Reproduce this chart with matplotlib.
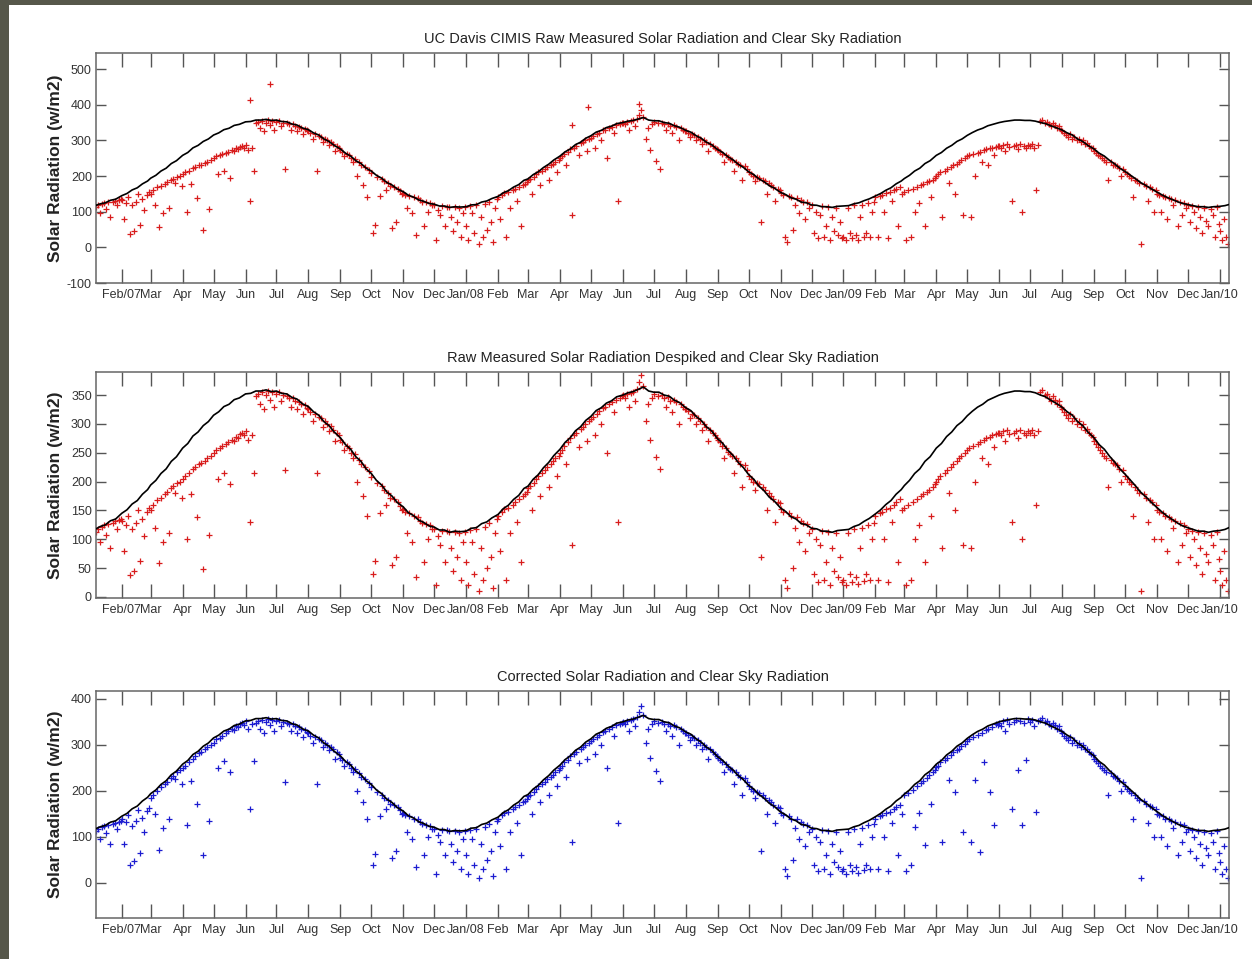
import numpy as np
import pandas as pd
import matplotlib
matplotlib.use('Agg')
import matplotlib.pyplot as plt
from matplotlib.patches import Rectangle

# Clear sky radiation (w/m2), read on days 1, 6, 11, 16, 21, 26 of each month
clear_2007 = [
    [116, 117, 122, 125, 132, 135], [145, 151, 161, 167, 178, 186],
    [194, 202, 214, 222, 235, 243], [258, 266, 279, 286, 297, 304],
    [315, 321, 330, 334, 342, 345], [352, 353, 357, 357, 359, 356],
    [357, 353, 352, 346, 343, 335], [330, 321, 315, 304, 297, 286],
    [276, 264, 256, 243, 235, 222], [214, 202, 194, 182, 175, 164],
    [156, 146, 141, 133, 129, 123], [121, 116, 116, 112, 114, 113],
]
clear_2008 = [
    [114, 119, 120, 127, 130, 137], [143, 153, 159, 169, 176, 188],
    [192, 204, 212, 224, 233, 245], [256, 268, 276, 288, 295, 306],
    [313, 323, 328, 336, 340, 347], [350, 354, 356, 360, 364, 357],
    [355, 355, 350, 348, 341, 337], [328, 323, 313, 306, 295, 288],
    [274, 266, 254, 245, 233, 224], [212, 204, 192, 184, 173, 166],
    [154, 148, 139, 135, 127, 125], [119, 118, 114, 114, 112, 115],
]
clear_2009 = [
    [116, 117, 122, 125, 131, 136], [144, 151, 160, 167, 178, 186],
    [193, 202, 214, 222, 235, 243], [258, 266, 278, 286, 297, 304],
    [314, 322, 329, 334, 341, 345], [350, 353, 355, 357, 357, 356],
    [356, 354, 350, 347, 341, 336], [329, 321, 315, 304, 297, 286],
    [276, 264, 256, 244, 234, 222], [213, 203, 193, 182, 174, 165],
    [155, 147, 140, 134, 128, 123], [120, 117, 114, 114, 112, 114],
]
clear_2010 = [[115, 117, 121]]

# Measured solar radiation, despiked (w/m2), every second day from the 1st
measured_2007 = [
    [118, 105, 120, 112, 118, 95, 121, 124, 108, 126, 85, 128, 131, 118, 133, 135],
    [132, 80, 125, 140, 38, 118, 45, 128, 150, 62, 135, 105, 148, 155],
    [150, 160, 120, 168, 58, 172, 95, 178, 182, 110, 188, 192, 180, 198, 200, 172],
    [205, 210, 100, 215, 178, 222, 225, 138, 230, 232, 48, 236, 240, 108, 245],
    [250, 255, 205, 258, 262, 215, 265, 268, 195, 272, 270, 278, 275, 282, 285, 280],
    [288, 272, 130, 280, 215, 348, 352, 335, 355, 325, 350, 357, 342, 355, 330],
    [352, 355, 340, 350, 220, 348, 345, 330, 345, 340, 325, 338, 335, 318, 332, 328],
    [325, 320, 305, 318, 215, 312, 310, 295, 305, 300, 288, 296, 290, 270, 285, 280],
    [272, 268, 255, 262, 258, 250, 240, 248, 200, 238, 230, 175, 225, 140, 218],
    [208, 40, 62, 198, 145, 192, 185, 160, 180, 172, 55, 170, 70, 165, 158, 150],
    [152, 148, 110, 145, 95, 140, 35, 138, 132, 128, 60, 126, 100, 124, 118],
    [118, 20, 105, 90, 115, 60, 114, 112, 85, 45, 113, 70, 110, 30, 95, 112],
]
measured_2008 = [
    [60, 20, 116, 95, 40, 118, 10, 85, 30, 122, 50, 128, 70, 15, 110, 135],
    [140, 80, 148, 152, 30, 155, 110, 160, 165, 130, 170, 60, 175, 178, 182],
    [188, 192, 150, 198, 205, 210, 175, 215, 220, 225, 190, 230, 235, 240, 210, 245],
    [250, 255, 262, 230, 268, 275, 90, 280, 285, 260, 292, 295, 300, 270, 305],
    [308, 312, 280, 318, 322, 300, 328, 330, 250, 335, 338, 320, 342, 130, 345, 348],
    [350, 345, 352, 330, 354, 356, 340, 360, 372, 385, 365, 305, 335, 272, 345],
    [352, 243, 348, 221, 350, 345, 330, 346, 340, 320, 342, 338, 300, 335, 330, 325],
    [325, 322, 310, 318, 315, 300, 310, 305, 290, 300, 295, 270, 290, 285, 280, 275],
    [272, 268, 262, 240, 258, 252, 248, 245, 215, 240, 235, 230, 190, 228, 220],
    [210, 205, 200, 185, 198, 195, 70, 190, 185, 150, 180, 175, 170, 130, 165, 162],
    [152, 148, 30, 15, 145, 140, 50, 120, 138, 95, 132, 128, 80, 126, 110],
    [118, 40, 100, 25, 90, 115, 30, 60, 112, 20, 85, 45, 110, 35, 70, 25],
]
measured_2009 = [
    [30, 20, 110, 40, 25, 118, 35, 22, 85, 120, 28, 40, 125, 30, 100, 128],
    [140, 30, 145, 148, 100, 152, 25, 155, 130, 160, 165, 60, 170, 150],
    [155, 20, 160, 30, 165, 100, 170, 125, 175, 178, 60, 182, 185, 140, 190, 195],
    [200, 205, 210, 85, 215, 220, 180, 225, 230, 150, 235, 240, 245, 90, 250],
    [255, 258, 85, 262, 200, 265, 268, 240, 272, 275, 230, 278, 280, 260, 282, 285],
    [285, 280, 288, 270, 290, 282, 130, 285, 288, 275, 290, 100, 285, 280, 288],
    [285, 290, 280, 160, 288, 355, 358, 350, 352, 345, 340, 348, 342, 335, 340, 330],
    [325, 320, 315, 310, 318, 305, 310, 300, 305, 295, 300, 290, 292, 285, 280, 278],
    [270, 265, 260, 255, 250, 245, 240, 190, 238, 232, 230, 228, 222, 200, 220],
    [210, 205, 200, 195, 140, 190, 185, 180, 10, 178, 172, 130, 168, 165, 100, 160],
    [150, 148, 100, 145, 140, 80, 138, 135, 120, 132, 60, 128, 90, 125, 110],
    [118, 70, 115, 100, 55, 112, 85, 40, 110, 75, 60, 108, 90, 30, 112, 65],
]
measured_2010 = [[45, 20, 80, 30, 10]]

# Spikes removed by the despiking step
spike_dates = ['2007-06-05', '2007-06-25', '2008-04-13', '2008-04-28', '2008-06-17']
spike_values = [412, 458, 342, 395, 402]

# Corrected values for the periods with a low sensor reading
corrected_2007 = [  # Feb - early Jun 2007
    [140, 84, 132, 148, 40, 124, 47, 135, 158, 65, 142, 110, 156, 163],
    [185, 192, 150, 200, 72, 208, 119, 215, 220, 138, 228, 232, 225, 240, 245, 215],
    [250, 255, 125, 262, 222, 270, 275, 172, 282, 285, 60, 290, 295, 135, 300],
    [305, 312, 250, 315, 320, 265, 325, 330, 240, 335, 332, 340, 338, 345, 347, 342],
    [352, 335, 160, 345, 265],
]
corrected_2009 = [  # Mar - early Jul 2009
    [190, 25, 195, 38, 202, 122, 210, 152, 218, 222, 83, 228, 235, 172, 240, 245],
    [252, 255, 262, 89, 268, 272, 224, 278, 284, 198, 288, 292, 298, 110, 302],
    [308, 312, 89, 318, 224, 322, 67, 326, 263, 332, 335, 198, 338, 126, 345, 342],
    [348, 340, 352, 330, 354, 345, 160, 350, 355, 246, 352, 126, 348, 267, 356],
    [350, 354, 340, 154, 352],
]


def to_series(year, months, step, first_month=1):
    parts = []
    for k, vals in enumerate(months):
        start = pd.Timestamp(year, first_month + k, 1)
        idx = start + pd.to_timedelta(np.arange(len(vals)) * step, unit='D')
        parts.append(pd.Series(vals, index=idx, dtype=float))
    return pd.concat(parts)


clear = pd.concat([to_series(2007, clear_2007, 5), to_series(2008, clear_2008, 5),
                   to_series(2009, clear_2009, 5), to_series(2010, clear_2010, 5)])
despiked = pd.concat([to_series(2007, measured_2007, 2), to_series(2008, measured_2008, 2),
                      to_series(2009, measured_2009, 2), to_series(2010, measured_2010, 2)])
spikes = pd.Series(spike_values, index=pd.to_datetime(spike_dates), dtype=float)
raw = pd.concat([despiked, spikes]).sort_index()
corrected = despiked.copy()
corrected.update(to_series(2007, corrected_2007, 2, first_month=2))
corrected.update(to_series(2009, corrected_2009, 2, first_month=3))

plt.rcParams['font.family'] = ['Liberation Sans', 'DejaVu Sans']
plt.rcParams['axes.unicode_minus'] = False

fig = plt.figure(figsize=(12.52, 9.59), dpi=100)
fig.patch.set_facecolor('#56574a')
fig.patches.append(Rectangle((9 / 1252, 0), 1, 1 - 5 / 959, transform=fig.transFigure,
                             facecolor='white', edgecolor='none', zorder=-10))

month_ticks = pd.date_range('2007-02-01', '2010-01-01', freq='MS')
month_labels = [d.strftime('%b/%y') if (i == 0 or d.month == 1) else d.strftime('%b')
                for i, d in enumerate(month_ticks)]

panels = [
    ('UC Davis CIMIS Raw Measured Solar Radiation and Clear Sky Radiation', raw, '#d81c1c',
     [0.0767, 0.7049, 0.9050, 0.2398], (-100, 545), np.arange(-100, 501, 100)),
    ('Raw Measured Solar Radiation Despiked and Clear Sky Radiation', despiked, '#d81c1c',
     [0.0767, 0.3764, 0.9050, 0.2357], (-2, 390), np.arange(0, 351, 50)),
    ('Corrected Solar Radiation and Clear Sky Radiation', corrected, '#1c1cd0',
     [0.0767, 0.0428, 0.9050, 0.2367], (-76, 417), np.arange(0, 401, 100)),
]

for title, series, color, pos, ylim, yticks in panels:
    ax = fig.add_axes(pos)
    ax.plot(series.index, series.values, linestyle='none', marker='+', ms=4, mew=0.9,
            color=color, zorder=2)
    ax.plot(clear.index, clear.values, color='black', lw=1.2, zorder=3)
    ax.set_xlim(pd.Timestamp('2007-01-07'), pd.Timestamp('2010-01-10'))
    ax.set_ylim(*ylim)
    ax.set_xticks(month_ticks)
    ax.set_xticklabels(month_labels)
    ax.set_yticks(yticks)
    ax.tick_params(axis='both', direction='in', colors='#555555', labelcolor='#333333',
                   labelsize=9, width=1, top=True, right=True)
    ax.tick_params(axis='x', length=10, pad=4)
    ax.tick_params(axis='y', length=7, pad=3)
    for side in ax.spines.values():
        side.set_color('#666666')
        side.set_linewidth(1.1)
    ax.set_title(title, fontsize=10.5, color='#222222', pad=7)
    ax.set_ylabel('Solar Radiation (w/m2)', fontsize=12.5, fontweight='bold', color='#222222')
    ax.yaxis.set_label_coords(-0.029, 0.5)

fig.savefig('out.png', dpi=100, facecolor=fig.get_facecolor())
